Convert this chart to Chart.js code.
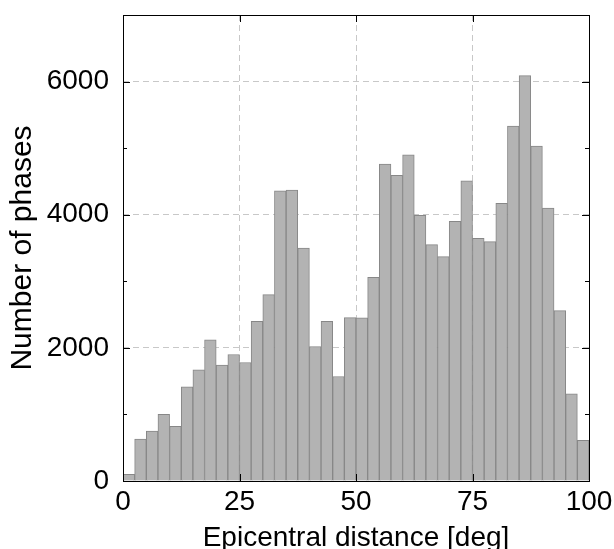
<!DOCTYPE html>
<html>
<head>
<meta charset="utf-8">
<script src="https://cdn.jsdelivr.net/npm/chart.js@4/dist/chart.umd.min.js"></script>
<style>
  html, body { margin: 0; padding: 0; background: #fff; }
  #wrap { width: 614px; height: 549px; }
</style>
</head>
<body>
<div id="wrap"><canvas id="histChart"></canvas></div>
<script>
// Histogram data: left edge of each 2.5 deg bin and number of phases
const binStarts = [0, 2.5, 5, 7.5, 10, 12.5, 15, 17.5, 20, 22.5,
  25, 27.5, 30, 32.5, 35, 37.5, 40, 42.5, 45, 47.5,
  50, 52.5, 55, 57.5, 60, 62.5, 65, 67.5, 70, 72.5,
  75, 77.5, 80, 82.5, 85, 87.5, 90, 92.5, 95, 97.5]
const counts = [100, 630, 750, 1000, 820, 1415, 1670, 2120, 1740, 1900,
  1780, 2400, 2800, 4360, 4370, 3500, 2020, 2400, 1570, 2455,
  2450, 3060, 4760, 4590, 4900, 3990, 3550, 3370, 3900, 4510,
  3645, 3595, 4170, 5330, 6090, 5030, 4100, 2560, 1310, 610]

const xTicks = [0, 25, 50, 75, 100]
const yTicks = [0, 2000, 4000, 6000]
const yMinorTicks = [1000, 3000, 5000]

const FONT = "'Liberation Sans', Arial, Helvetica, sans-serif"

// frame + inward tick marks
const framePlugin = {
  id: "frame",
  afterDraw(chart) {
    const { ctx, chartArea: a } = chart
    const ys = chart.scales.y
    const xs = chart.scales.x2
    ctx.save()
    ctx.strokeStyle = "#000"
    ctx.lineWidth = 1
    ctx.strokeRect(a.left + 0.5, a.top + 0.5, a.right - a.left, a.bottom - a.top)
    ctx.beginPath()
    yTicks.forEach((v) => {
      const py = Math.round(ys.getPixelForValue(v)) + 0.5
      ctx.moveTo(a.left, py); ctx.lineTo(a.left + 7, py)
      ctx.moveTo(a.right, py); ctx.lineTo(a.right - 7, py)
    })
    yMinorTicks.forEach((v) => {
      const py = Math.round(ys.getPixelForValue(v)) + 0.5
      ctx.moveTo(a.left, py); ctx.lineTo(a.left + 4, py)
      ctx.moveTo(a.right, py); ctx.lineTo(a.right - 4, py)
    })
    xTicks.forEach((v) => {
      const px = Math.round(xs.getPixelForValue(v)) + 0.5
      ctx.moveTo(px, a.top); ctx.lineTo(px, a.top + 7)
      ctx.moveTo(px, a.bottom); ctx.lineTo(px, a.bottom - 7)
    })
    ctx.stroke()
    ctx.restore()
  },
}

const ctx = document.getElementById("histChart")
new Chart(ctx, {
  type: "bar",
  data: {
    labels: binStarts.map((s) => s + "-" + (s + 2.5)),
    datasets: [
      {
        data: counts,
        backgroundColor: "#b3b3b3",
        borderColor: "#878787",
        borderWidth: 1,
        barPercentage: 1,
        categoryPercentage: 1,
        xAxisID: "x",
        yAxisID: "y",
      },
    ],
  },
  options: {
    responsive: true,
    maintainAspectRatio: false,
    animation: false,
    layout: { padding: { top: 15, right: 25, left: 0, bottom: 0 } },
    plugins: { legend: { display: false }, tooltip: { enabled: false } },
    scales: {
      x: { display: false, offset: true },
      x2: {
        type: "linear",
        position: "bottom",
        min: 0,
        max: 100,
        offset: false,
        afterBuildTicks: (scale) => { scale.ticks = xTicks.map((v) => ({ value: v })) },
        afterFit: (scale) => {
          scale.height = 68
          scale.paddingLeft = 0
          scale.paddingRight = 0
        },
        grid: { color: "#c8c8c8", drawTicks: false, offset: false },
        border: { display: false, dash: [6, 4] },
        ticks: {
          color: "#000",
          font: { family: FONT, size: 28 },
          padding: 4,
          maxRotation: 0,
          callback: (v) => String(v),
        },
        title: {
          display: true,
          text: "Epicentral distance [deg]",
          color: "#000",
          font: { family: FONT, size: 28 },
          padding: { top: 0, bottom: -6 },
        },
      },
      y: {
        min: 0,
        max: 7000,
        afterBuildTicks: (scale) => { scale.ticks = yTicks.map((v) => ({ value: v })) },
        afterFit: (scale) => {
          scale.width = 123
          scale.paddingTop = 0
          scale.paddingBottom = 0
        },
        grid: { color: "#c8c8c8", drawTicks: false },
        border: { display: false, dash: [6, 4] },
        ticks: {
          color: "#000",
          font: { family: FONT, size: 28 },
          padding: 14,
          callback: (v) => String(v),
        },
        title: {
          display: true,
          text: "Number of phases",
          color: "#000",
          font: { family: FONT, size: 30 },
          padding: { top: 5, bottom: 0 },
        },
      },
    },
  },
  plugins: [framePlugin],
})
</script>
</body>
</html>
